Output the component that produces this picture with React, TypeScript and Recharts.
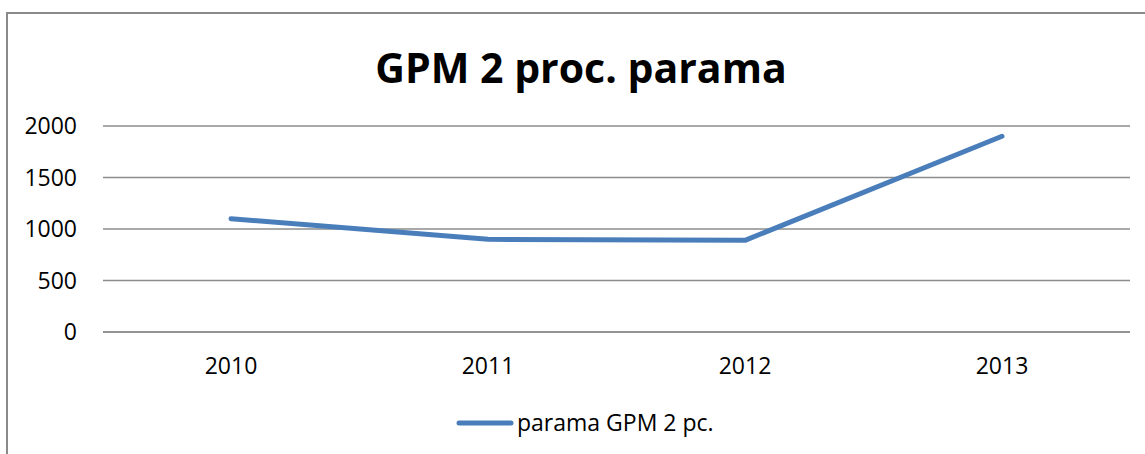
import React from "react";
import { LineChart, Line, XAxis, YAxis, CartesianGrid, Legend } from "recharts";

const years = ["2010", "2011", "2012", "2013"];
const values = [1100, 900, 890, 1900];
const yTicks = [0, 500, 1000, 1500, 2000];
const seriesName = "parama GPM 2 pc.";
const title = "GPM 2 proc. parama";

const data = years.map((y, i) => ({ year: y, value: values[i] }));

const FONT = "'Open Sans', 'DejaVu Sans', sans-serif";
const LINE = "#4A7EBB";
const GRID = "#8c8c8c";

const renderLegend = () => (
  <div style={{ position: "relative", width: 1145, height: 40 }}>
    <svg width={1145} height={40} style={{ position: "absolute", left: 0, top: 0 }}>
      <line x1={459} y1={19} x2={511} y2={19} stroke={LINE} strokeWidth={5} strokeLinecap="round" />
      <text x={517} y={27} fontFamily={FONT} fontSize={23} fill="#000">{seriesName}</text>
    </svg>
  </div>
);

export default function App() {
  return (
    <div style={{ position: "absolute", left: 0, top: 0, width: 1145, height: 454, overflow: "hidden", background: "#fff" }}>
      <div style={{ position: "absolute", left: 6, top: 12, width: 1200, height: 520, border: "2px solid #8a8a8a", boxSizing: "border-box" }} />
      <svg width={1145} height={100} style={{ position: "absolute", left: 0, top: 0 }}>
        <text x={581} y={83} textAnchor="middle" fontFamily={FONT} fontWeight="bold" fontSize={41} fill="#000">{title}</text>
      </svg>
      <div style={{ position: "absolute", left: 0, top: 0 }}>
        <LineChart width={1145} height={454} data={data} margin={{ top: 126, right: 15, left: 0, bottom: 10 }}>
          <CartesianGrid vertical={false} stroke={GRID} strokeWidth={1.5} />
          <XAxis
            dataKey="year"
            padding={{ left: 128, right: 128 }}
            axisLine={{ stroke: GRID, strokeWidth: 1.5 }}
            tickLine={false}
            tickSize={0}
            tickMargin={26}
            height={72}
            tick={{ fill: "#000", fontSize: 23, fontFamily: FONT }}
          />
          <YAxis
            domain={[0, 2000]}
            ticks={yTicks}
            width={103}
            axisLine={false}
            tickLine={false}
            tickSize={0}
            tickMargin={26}
            tick={{ fill: "#000", fontSize: 23, fontFamily: FONT }}
          />
          <Legend verticalAlign="bottom" height={40} content={renderLegend} />
          <Line
            type="linear"
            dataKey="value"
            name={seriesName}
            stroke={LINE}
            strokeWidth={5}
            strokeLinecap="round"
            strokeLinejoin="round"
            dot={false}
            activeDot={false}
            isAnimationActive={false}
          />
        </LineChart>
      </div>
    </div>
  );
}
